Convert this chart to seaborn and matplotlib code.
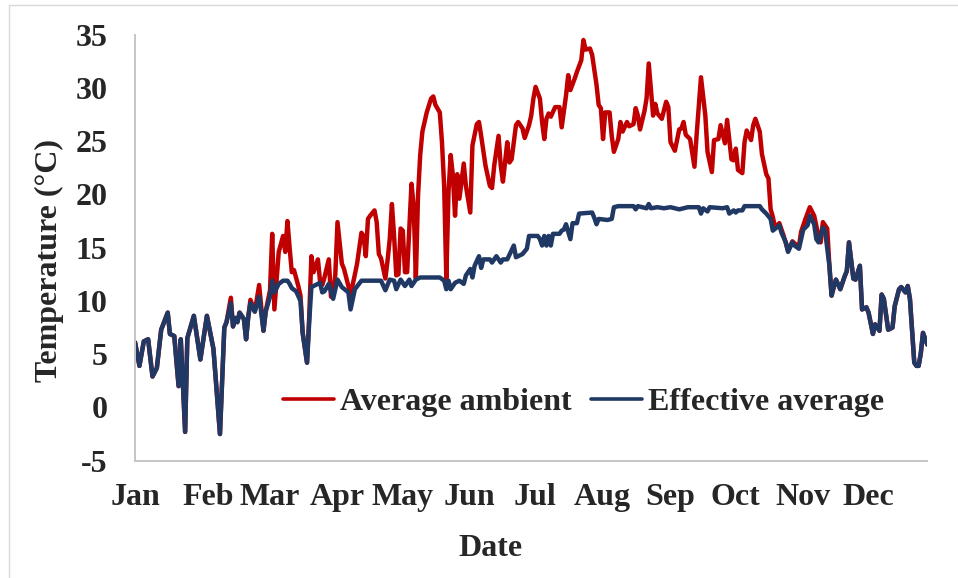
import pandas as pd
import seaborn as sns
import matplotlib.pyplot as plt
from matplotlib.lines import Line2D
import matplotlib.transforms as mtransforms

# Daily mean temperatures (°C) at their day-of-year turning points
amb_day = [0, 2, 4, 6, 8, 10, 12, 15, 16, 18, 20, 21, 23, 24, 27, 30, 33, 36, 39, 41,
           42, 44, 45, 46, 47, 48, 50, 51, 52, 53, 55, 57, 59, 60, 62, 63, 64, 66, 68, 69,
           70, 71, 72, 73, 75, 76, 77, 79, 80, 81, 82, 84, 85, 86, 87, 89, 90, 91, 92, 93,
           95, 96, 98, 99, 101, 102, 104, 105, 106, 107, 108, 110, 111, 112, 113, 115, 116, 117, 118, 119,
           120, 121, 122, 123, 124, 125, 127, 128, 129, 130, 131, 132, 134, 136, 137, 138, 140, 141, 142, 143,
           144, 145, 146, 147, 148, 149, 151, 152, 154, 155, 157, 158, 159, 161, 163, 164, 165, 167, 168, 169,
           171, 172, 173, 175, 176, 178, 179, 181, 182, 183, 184, 186, 187, 188, 189, 190, 191, 193, 195, 196,
           198, 199, 200, 202, 203, 205, 206, 207, 209, 210, 212, 213, 214, 215, 216, 218, 219, 220, 222, 223,
           224, 226, 227, 229, 230, 231, 232, 234, 235, 236, 237, 238, 239, 240, 242, 244, 245, 246, 248, 250,
           251, 252, 253, 255, 257, 258, 260, 262, 263, 265, 266, 268, 269, 271, 272, 274, 275, 276, 277, 279,
           280, 281, 283, 284, 285, 287, 288, 290, 291, 292, 293, 294, 296, 298, 300, 302, 303, 305, 306, 308,
           310, 312, 314, 315, 316, 318, 319, 320, 321, 322, 324, 326, 327, 328, 330, 331, 333, 334, 336, 337,
           339, 340, 342, 343, 344, 346, 348, 349, 351, 352, 354, 355, 356, 358, 359, 360, 361, 362, 364]
amb_temp = [6.1, 3.9, 6.2, 6.4, 2.9, 3.7, 7.3, 8.9, 6.9, 6.7, 2.0, 6.4, -2.3, 6.5, 8.6, 4.5, 8.6, 5.5, -2.5, 7.5,
            8.0, 10.3, 7.6, 8.4, 8.0, 8.9, 8.3, 6.4, 8.5, 10.1, 9.0, 11.5, 7.2, 9.0, 11.0, 16.3, 9.2, 14.6, 16.1, 14.6,
            17.5, 15.0, 12.7, 12.9, 11.4, 10.5, 7.0, 4.2, 8.5, 14.2, 12.7, 13.9, 11.8, 11.5, 12.2, 13.9, 10.4, 10.5, 12.5, 17.4,
            13.5, 13.0, 11.4, 10.6, 12.5, 13.5, 16.4, 16.1, 14.2, 17.7, 18.0, 18.5, 17.4, 14.4, 14.0, 12.1, 13.8, 15.8, 19.1, 16.1,
            12.4, 12.5, 16.8, 16.6, 12.7, 12.7, 21.0, 18.9, 12.1, 19.9, 23.7, 25.9, 27.7, 29.0, 29.2, 28.4, 27.7, 24.9, 20.8, 12.1,
            20.2, 23.7, 21.8, 18.0, 21.9, 19.6, 22.9, 20.8, 18.3, 24.6, 26.6, 26.8, 25.5, 22.7, 20.8, 20.6, 22.7, 25.5, 22.7, 21.2,
            24.9, 23.0, 23.3, 26.5, 26.8, 26.2, 25.3, 26.5, 27.4, 29.0, 30.1, 29.0, 26.8, 25.2, 27.1, 27.6, 27.3, 28.2, 28.2, 26.3,
            29.3, 31.2, 29.8, 30.9, 31.5, 32.6, 34.5, 33.6, 33.7, 33.1, 30.3, 28.4, 28.1, 25.2, 27.7, 27.7, 25.5, 24.0, 25.2, 26.8,
            25.9, 26.8, 26.4, 26.6, 28.1, 27.4, 26.1, 27.8, 29.0, 32.3, 29.9, 27.4, 28.5, 27.6, 27.1, 28.7, 28.2, 24.9, 24.1, 26.1,
            26.2, 26.8, 25.6, 25.2, 22.6, 25.6, 31.0, 27.4, 24.0, 22.1, 25.1, 25.2, 26.5, 24.8, 27.0, 23.3, 23.2, 24.3, 22.3, 22.0,
            24.9, 26.0, 25.1, 26.5, 27.1, 25.9, 23.8, 21.9, 21.5, 18.6, 17.9, 16.9, 17.3, 16.1, 14.7, 15.6, 15.4, 15.1, 16.5, 17.7,
            18.8, 18.0, 16.1, 15.5, 17.4, 16.8, 13.3, 10.5, 11.3, 12.0, 11.1, 12.3, 12.8, 15.5, 12.1, 12.0, 13.3, 9.2, 9.4, 8.9,
            6.9, 7.8, 7.2, 10.6, 10.2, 7.3, 7.5, 9.5, 11.1, 11.3, 10.8, 11.4, 10.2, 4.2, 3.9, 3.9, 5.1, 7.0, 5.9]

eff_day = [0, 2, 4, 6, 8, 10, 12, 15, 16, 18, 20, 21, 23, 24, 27, 30, 33, 36, 39, 41,
           42, 44, 45, 46, 47, 48, 50, 51, 52, 53, 55, 57, 59, 60, 62, 63, 64, 66, 68, 70,
           71, 72, 74, 76, 77, 79, 80, 81, 83, 85, 86, 87, 89, 91, 93, 95, 98, 99, 101, 104,
           110, 113, 115, 117, 119, 120, 122, 124, 126, 127, 129, 131, 140, 142, 143, 144, 145, 147, 149, 151,
           152, 154, 155, 156, 158, 159, 160, 163, 164, 166, 168, 169, 171, 174, 175, 178, 180, 181, 185, 186,
           187, 188, 189, 190, 191, 192, 195, 196, 197, 198, 199, 200, 201, 203, 204, 210, 211, 212, 213, 217,
           219, 220, 222, 229, 230, 231, 235, 236, 237, 240, 243, 246, 250, 254, 259, 260, 261, 263, 264, 270,
           272, 273, 275, 276, 277, 279, 280, 287, 288, 290, 292, 293, 296, 297, 299, 300, 302, 303, 305, 307,
           309, 310, 312, 313, 314, 316, 317, 319, 320, 321, 322, 324, 326, 327, 328, 330, 331, 333, 334, 336,
           337, 339, 340, 342, 343, 344, 346, 348, 349, 351, 352, 354, 355, 356, 358, 359, 360, 361, 362, 364]
eff_temp = [6.1, 3.9, 6.2, 6.4, 2.9, 3.7, 7.3, 8.9, 6.9, 6.7, 2.0, 6.4, -2.3, 6.5, 8.6, 4.5, 8.6, 5.5, -2.5, 7.5,
            8.0, 9.8, 7.6, 8.4, 8.0, 8.9, 8.3, 6.4, 8.5, 9.8, 9.0, 10.4, 7.2, 9.0, 10.4, 11.9, 10.8, 11.6, 11.9, 11.9,
            11.6, 11.2, 10.9, 10.0, 7.0, 4.2, 8.0, 11.3, 11.5, 11.7, 10.8, 10.9, 11.6, 10.2, 12.0, 11.3, 10.8, 9.2, 11.1, 11.9,
            11.9, 11.9, 11.0, 12.0, 11.9, 11.1, 12.0, 11.4, 12.0, 11.4, 12.0, 12.2, 12.2, 11.9, 11.1, 11.9, 11.1, 11.7, 11.9, 11.6,
            12.4, 13.0, 12.2, 13.3, 14.2, 13.1, 13.9, 13.9, 13.6, 14.2, 13.6, 13.9, 13.9, 15.2, 14.1, 14.4, 14.9, 16.1, 16.1, 15.8,
            15.2, 16.1, 15.2, 16.1, 15.2, 16.3, 16.3, 16.6, 16.7, 17.2, 16.5, 15.8, 17.3, 17.3, 18.2, 18.3, 17.8, 17.2, 17.7, 17.6,
            17.7, 18.8, 18.9, 18.9, 18.6, 18.9, 18.7, 19.1, 18.7, 18.8, 18.7, 18.8, 18.6, 18.8, 18.8, 18.2, 18.7, 18.4, 18.8, 18.7,
            18.8, 18.2, 18.5, 18.3, 18.5, 18.5, 18.9, 18.9, 18.6, 18.2, 17.7, 16.6, 17.1, 16.4, 15.5, 14.6, 15.5, 15.2, 14.9, 16.7,
            17.1, 18.0, 17.2, 15.8, 15.5, 16.9, 16.6, 13.3, 10.5, 11.3, 12.0, 11.1, 12.3, 12.8, 15.5, 12.1, 12.0, 13.3, 9.2, 9.4,
            8.9, 6.9, 7.8, 7.2, 10.6, 10.2, 7.3, 7.5, 9.5, 11.1, 11.3, 10.8, 11.4, 10.2, 4.2, 3.9, 3.9, 5.1, 7.0, 5.9]

series_names = ['Average ambient', 'Effective average']
series_colors = ['#C00000', '#203864']
month_labels = ['Jan', 'Feb', 'Mar', 'Apr', 'May', 'Jun',
                'Jul', 'Aug', 'Sep', 'Oct', 'Nov', 'Dec']
y_ticks = [-5, 0, 5, 10, 15, 20, 25, 30, 35]

year_start = pd.Timestamp('2021-01-01')


def series_frame(days, temps, name):
    return pd.DataFrame({
        'Date': year_start + pd.to_timedelta(days, unit='D'),
        'Temperature': temps,
        'Series': name,
    })


df = pd.concat([series_frame(amb_day, amb_temp, series_names[0]),
                series_frame(eff_day, eff_temp, series_names[1])],
               ignore_index=True)

sns.set_theme(style='white')
plt.rcParams['font.family'] = ['Liberation Serif', 'DejaVu Serif']
plt.rcParams['font.weight'] = 'bold'
plt.rcParams['axes.labelweight'] = 'bold'
plt.rcParams['axes.unicode_minus'] = False

FS = 23

fig = plt.figure(figsize=(9.58, 5.78), dpi=100)
ax = fig.add_axes([0.141, 0.203, 0.827, 0.737])

sns.lineplot(data=df, x='Date', y='Temperature', hue='Series',
             hue_order=series_names,
             palette=dict(zip(series_names, series_colors)),
             linewidth=3.2, estimator=None, sort=False, ax=ax)

ax.set_ylim(-5, 35)
ax.set_yticks(y_ticks)
ax.set_xlim(year_start, year_start + pd.Timedelta(days=364))
month_starts = pd.date_range(year_start, periods=12, freq='MS')
ax.set_xticks(month_starts)
ax.set_xticklabels(month_labels)

ax.tick_params(axis='x', length=0, pad=16, labelsize=FS)
ax.tick_params(axis='y', length=0, pad=20, labelsize=FS)

# nudge month names a little to the right of the month boundary
nudge = mtransforms.ScaledTranslation(6 / 100, 0, fig.dpi_scale_trans)
for lab in ax.get_xticklabels()[1:]:
    lab.set_transform(lab.get_transform() + nudge)

ax.set_xlabel('Date', fontsize=FS, labelpad=16)
ax.set_ylabel('Temperature (°C)', fontsize=FS, labelpad=8)
ax.xaxis.label.set_x(0.448)
ax.yaxis.label.set_y(0.47)

for side in ('top', 'right'):
    ax.spines[side].set_visible(False)
for side in ('left', 'bottom'):
    ax.spines[side].set_color('#C6C6C6')
    ax.spines[side].set_linewidth(1.4)
ax.grid(False)

handles, labels = ax.get_legend_handles_labels()
ax.get_legend().remove()
leg = ax.legend(handles, labels, loc='center', bbox_to_anchor=(0.566, 0.137),
                ncol=2, frameon=False, fontsize=FS, handlelength=1.6,
                handletextpad=0.2, columnspacing=0.6)
for line in leg.get_lines():
    line.set_linewidth(2.6)

# chart-area frame
fig.add_artist(Line2D([9 / 958, 9 / 958], [0, 1 - 5 / 578], transform=fig.transFigure,
                      color='#D9D9D9', linewidth=1))
fig.add_artist(Line2D([9 / 958, 1], [1 - 5 / 578, 1 - 5 / 578], transform=fig.transFigure,
                      color='#D9D9D9', linewidth=1))

fig.savefig('out.png', dpi=100)
